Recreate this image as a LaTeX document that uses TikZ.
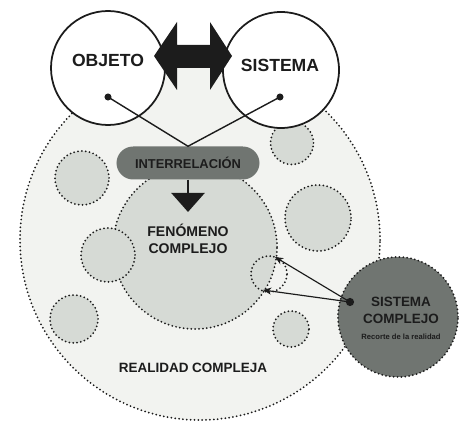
\documentclass[tikz,border=0pt]{standalone}
\usepackage{fontspec}
\setmainfont{Liberation Sans}
\usepackage{tikz}
\usetikzlibrary{calc,arrows.meta,positioning}

\definecolor{realfill}{HTML}{F2F3F0}
\definecolor{partfill}{HTML}{D6DAD5}
\definecolor{darkfill}{HTML}{707571}
\definecolor{ink}{HTML}{1C1C1C}

\tikzset{
  puntos/.style={dash pattern=on 0pt off 3.3pt,line cap=round,line width=1.7pt},
  realidad/.style={circle,draw=ink,fill=realfill,puntos,inner sep=0pt},
  parte/.style={circle,draw=ink,fill=partfill,puntos,inner sep=0pt},
  polo/.style={circle,draw=ink,fill=white,line width=1.5pt,inner sep=0pt,minimum size=3.42cm},
  rotulo/.style={text=ink,font=\bfseries,align=center,inner sep=0pt},
  punto/.style={circle,fill=ink,inner sep=0pt,minimum size=6pt},
}

\begin{document}
\begin{tikzpicture}[x=0.03cm,y=-0.03cm]
			\useasboundingbox (0,0) rectangle (464,431);
			
			% realidad compleja
			\node[realidad,minimum size=10.8cm] (realidad) at (200,240) {};
			
			% fenomeno complejo y partes
			\node[parte,minimum size=4.92cm] (fenomeno) at (195,247) {};
			\node[parte,minimum size=1.29cm] (p1) at (292,143) {};
			\node[parte,minimum size=1.62cm] (p2) at (82,178) {};
			\node[parte,minimum size=1.98cm] (p3) at (318,218) {};
			\node[parte,minimum size=1.62cm] (p4) at (108,255) {};
			\node[parte,minimum size=1.08cm,fill=none] (p5) at (269,274) {};
			\node[parte,minimum size=1.44cm] (p6) at (74,319) {};
			\node[parte,minimum size=1.08cm] (p7) at (291,329) {};
			
			% objeto y sistema
			\node[polo] (objeto) at (108,68) {};
			\node[polo,minimum size=3.48cm] (sistema) at (281,70) {};
			\node[rotulo,font=\bfseries\fontsize{15}{15}\selectfont] (tobjeto) at (108,60) {OBJETO};
			\node[rotulo,font=\bfseries\fontsize{15}{15}\selectfont] (tsistema) at (280,65) {SISTEMA};
			
			\fill[ink] (154,56) -- (177,22) -- (177,45) -- (210,45) -- (210,22) -- (232,56)
				-- (210,90) -- (210,68) -- (177,68) -- (177,90) -- cycle;
			
			% interrelacion
			\node[punto] (dobjeto) at (108,97) {};
			\node[punto] (dsistema) at (280,97) {};
			\node[rotulo,fill=darkfill,rounded corners=0.5cm,minimum width=4.29cm,minimum height=0.99cm,
				font=\bfseries\fontsize{11}{11}\selectfont] (inter) at (188,163) {INTERRELACIÓN};
			\draw[ink,line width=1.2pt] (dobjeto.center) -- (inter.north) -- (dsistema.center);
			\coordinate (tip) at (188,212);
			\draw[ink,line width=2pt,-{Triangle[length=0.57cm,width=0.99cm]}] (inter.south) -- (tip);
			
			\node[rotulo,font=\bfseries\fontsize{12}{15}\selectfont] (tfenomeno) at (188,239) {FENÓMENO\\COMPLEJO};
			\node[rotulo,font=\bfseries\fontsize{11.5}{11.5}\selectfont] (trealidad) at (193,368) {REALIDAD COMPLEJA};
			
			% sistema complejo
			\node[parte,fill=darkfill,minimum size=3.6cm] (complejo) at (398,317) {};
			\node[rotulo,font=\bfseries\fontsize{11.5}{14.5}\selectfont] (tcomplejo) at (401,310) {SISTEMA\\COMPLEJO};
			\node[rotulo,font=\bfseries\fontsize{6.5}{7}\selectfont] (trecorte) at (401,337) {Recorte de la realidad};
			\node[punto,minimum size=7pt] (dcomplejo) at (350,302) {};
			\coordinate (a1) at (275,257);
			\coordinate (a2) at (263,290);
			\draw[ink,line width=1pt,-{Stealth[length=7pt,width=6pt]}] (dcomplejo.center) -- (a1);
			\draw[ink,line width=1pt,-{Stealth[length=7pt,width=6pt]}] (dcomplejo.center) -- (a2);
			
\end{tikzpicture}
\end{document}
